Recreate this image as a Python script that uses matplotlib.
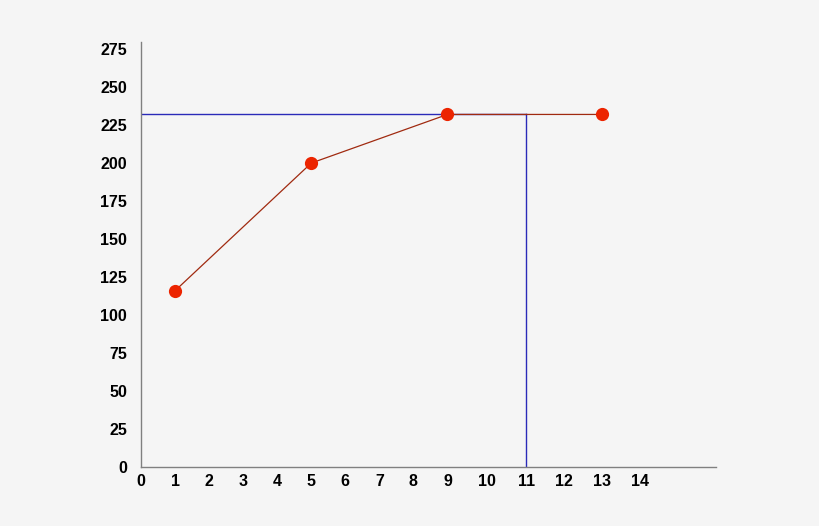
import numpy as np
import matplotlib
matplotlib.use("Agg")
import matplotlib.pyplot as plt

# Data
x_vals = [1, 5, 9, 13]
y_vals = [116, 200, 232, 232]
ref_x = 11
ref_y = 232
x_ticks = list(range(0, 15))
y_ticks = list(range(0, 276, 25))

# Piecewise-linear x scale (the original spaces two-digit labels wider)
knots_v = np.array([0.0, 9.0, 11.0, 16.0])
knots_p = np.array([0.0, 307.0, 386.0, 386.0 + 5 * 38.0])


def fwd(v):
    return np.interp(v, knots_v, knots_p)


def inv(p):
    return np.interp(p, knots_p, knots_v)


plt.rcParams['font.family'] = ['Liberation Sans', 'DejaVu Sans']

W, H = 820, 526
fig = plt.figure(figsize=(W / 100, H / 100), dpi=100, facecolor='#f5f5f5')
ax = fig.add_axes([141 / W, (H - 467) / H, (716 - 141) / W, (467 - 41.5) / H])
ax.set_facecolor('#f5f5f5')
ax.set_xscale('function', functions=(fwd, inv))
ax.set_xlim(0, 16)
ax.set_ylim(0, 280)

# Reference lines
ax.plot([0, ref_x], [ref_y, ref_y], color='#2a2ab8', lw=1.0, zorder=2)
ax.plot([ref_x, ref_x], [0, ref_y], color='#2a2ab8', lw=1.0, zorder=2)

# Series
ax.plot(x_vals, y_vals, color='#a02a10', lw=0.9, zorder=3)
ax.plot(x_vals, y_vals, linestyle='none', marker='o', markersize=9.5,
        color='#ec2400', markeredgewidth=0, zorder=4)

for side in ['top', 'right']:
    ax.spines[side].set_visible(False)
for side in ['left', 'bottom']:
    ax.spines[side].set_color('#808080')
    ax.spines[side].set_linewidth(1.0)

ax.set_xticks(x_ticks)
ax.set_xticklabels([str(t) for t in x_ticks])
ax.set_yticks(y_ticks)
ax.set_yticklabels([str(t) for t in y_ticks])
ax.tick_params(axis='both', length=0, labelsize=11.5, colors='#000000')
ax.tick_params(axis='x', pad=5)
ax.tick_params(axis='y', pad=10)
for lbl in ax.get_xticklabels() + ax.get_yticklabels():
    lbl.set_fontweight('bold')

fig.savefig('out.png', dpi=100, facecolor=fig.get_facecolor())
